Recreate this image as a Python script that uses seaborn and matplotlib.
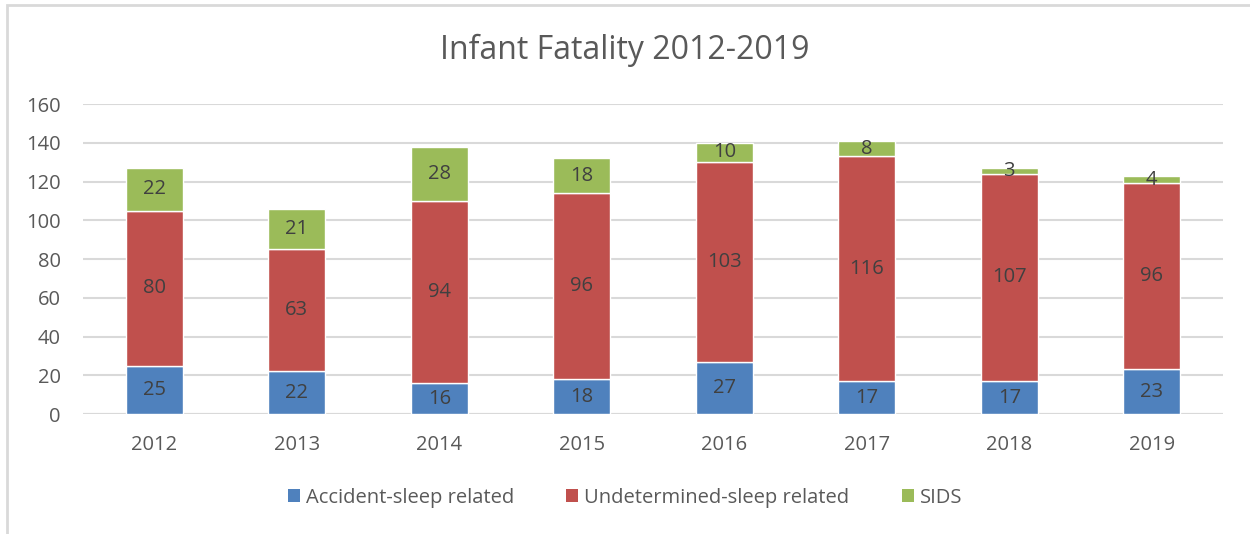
import pandas as pd
import matplotlib.pyplot as plt
import seaborn as sns
from matplotlib.patches import Rectangle, Patch

# chart values
years = ['2012', '2013', '2014', '2015', '2016', '2017', '2018', '2019']
accident = [25, 22, 16, 18, 27, 17, 17, 23]
undetermined = [80, 63, 94, 96, 103, 116, 107, 96]
sids = [22, 21, 28, 18, 10, 8, 3, 4]

series_names = ['Accident-sleep related', 'Undetermined-sleep related', 'SIDS']
colors = ['#4F81BD', '#C0504D', '#9BBB59']
txt = '#595959'

sns.set_theme(style='white')
plt.rcParams['font.family'] = ['Open Sans', 'DejaVu Sans']

data = pd.DataFrame({'year': years, 'accident': accident,
                     'undetermined': undetermined, 'sids': sids})

fig = plt.figure(figsize=(12.5, 5.34), dpi=100)
ax = fig.add_axes([0.0664, 0.2247, 0.912, 0.5805])

bottom1 = data['accident']
bottom2 = data['accident'] + data['undetermined']
sns.barplot(data=data, x='year', y='accident', color=colors[0], width=0.4,
            ax=ax, saturation=1, zorder=3)
sns.barplot(data=data, x='year', y='undetermined', color=colors[1], width=0.4,
            bottom=bottom1, ax=ax, saturation=1, zorder=3)
sns.barplot(data=data, x='year', y='sids', color=colors[2], width=0.4,
            bottom=bottom2, ax=ax, saturation=1, zorder=3)

for c in ax.containers:
    ax.bar_label(c, label_type='center', fontsize=14.5, color='#404040')

ax.set_ylim(0, 160)
ax.set_xlim(-0.5, 7.5)
ax.set_yticks(range(0, 161, 20))
ax.yaxis.grid(True, color='#D9D9D9', linewidth=1.5, zorder=0)
ax.set_axisbelow(True)
for s in ax.spines.values():
    s.set_visible(False)
ax.axhline(0, color='#D9D9D9', linewidth=1.5, zorder=1)
ax.set_xlabel('')
ax.set_ylabel('')
ax.tick_params(axis='both', length=0, labelsize=14.5, colors=txt)
ax.tick_params(axis='x', pad=15)
ax.tick_params(axis='y', pad=16)

fig.text(0.5, 0.905, 'Infant Fatality 2012-2019', ha='center', va='center',
         fontsize=23, color=txt)

handles = [Patch(facecolor=c, edgecolor='none') for c in colors]
fig.legend(handles, series_names, loc='center', bbox_to_anchor=(0.5, 0.068),
           ncol=3, frameon=False, fontsize=14.5, labelcolor=txt,
           handlelength=0.6, handleheight=0.6, columnspacing=2.6,
           handletextpad=0.3)

# chart frame, only top and left edges visible
fig.patches.append(Rectangle((7 / 1250, -0.1), 1.2, 1 - 5 / 534 + 0.1,
                             transform=fig.transFigure, fill=False,
                             edgecolor='#D9D9D9', linewidth=2))

fig.savefig('out.png', dpi=100)
